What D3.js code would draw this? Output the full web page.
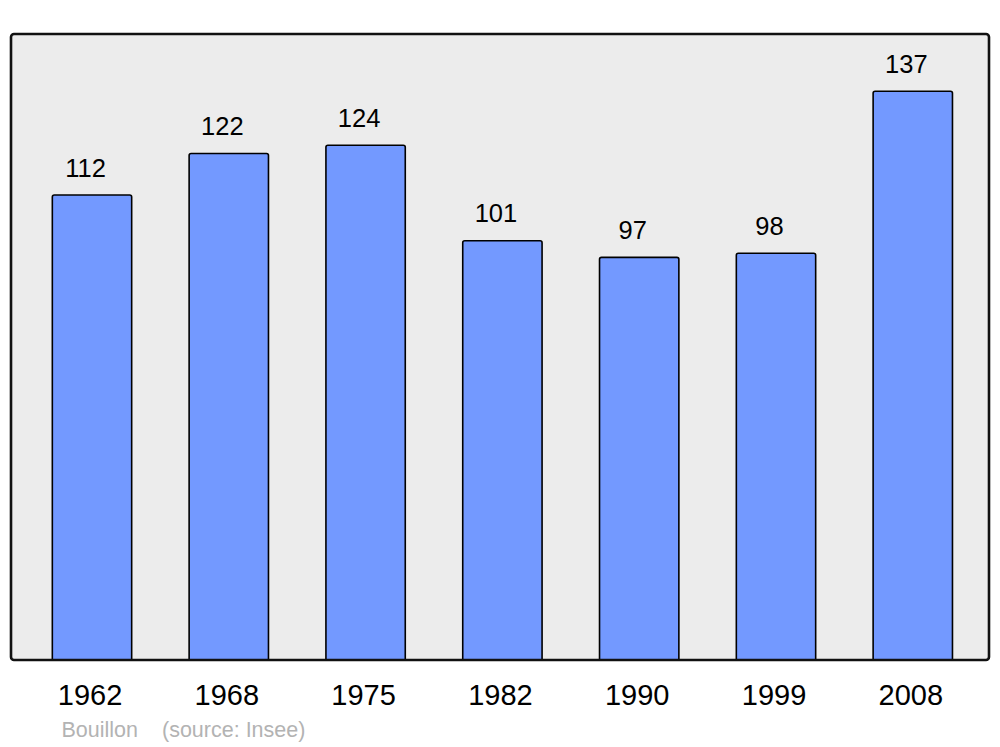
<!DOCTYPE html>
<html>
<head>
<meta charset="utf-8">
<script src="https://cdn.jsdelivr.net/npm/d3@7"></script>
<style>
  html, body { margin: 0; padding: 0; background: #fff; }
  svg { display: block; font-family: "Liberation Sans", Arial, sans-serif; }
</style>
</head>
<body>
<svg id="chart" width="1000" height="747"></svg>
<script>
const years = ["1962", "1968", "1975", "1982", "1990", "1999", "2008"];
const population = [112, 122, 124, 101, 97, 98, 137];
const place = "Bouillon";
const source = "(source: Insee)";

const svg = d3.select("#chart");
const panel = { x0: 11, x1: 989, y0: 34, y1: 660 };

svg.append("rect")
  .attr("x", panel.x0).attr("y", panel.y0)
  .attr("width", panel.x1 - panel.x0).attr("height", panel.y1 - panel.y0)
  .attr("rx", 3).attr("ry", 3)
  .attr("fill", "#ececec").attr("stroke", "none");

const x = d3.scaleBand()
  .domain(years)
  .range([23.6, 981.2])
  .paddingInner(0.42)
  .paddingOuter(0.21);

const y = d3.scaleLinear()
  .domain([0, 150.8])
  .range([panel.y1, panel.y0]);

const data = years.map((yr, i) => ({ year: yr, value: population[i] }));

svg.append("g").selectAll("path")
  .data(data)
  .join("path")
  .attr("d", d => {
    const x0 = x(d.year), x1 = x0 + x.bandwidth();
    const t = y(d.value), b = y(0), r = 2;
    return `M${x0},${b} L${x0},${t + r} Q${x0},${t} ${x0 + r},${t} L${x1 - r},${t} Q${x1},${t} ${x1},${t + r} L${x1},${b}`;
  })
  .attr("fill", "#7399ff")
  .attr("stroke", "#000")
  .attr("stroke-width", 1.6);

svg.append("g").selectAll("text")
  .data(data)
  .join("text")
  .attr("x", d => x(d.year) + x.bandwidth() / 2 - 6.5)
  .attr("y", d => y(d.value) - 18.5)
  .attr("text-anchor", "middle")
  .attr("font-size", 25.5)
  .attr("fill", "#000")
  .text(d => d.value);

// panel border on top
svg.append("rect")
  .attr("x", panel.x0).attr("y", panel.y0)
  .attr("width", panel.x1 - panel.x0).attr("height", panel.y1 - panel.y0)
  .attr("rx", 3).attr("ry", 3)
  .attr("fill", "none").attr("stroke", "#111").attr("stroke-width", 2.6);

const xAxis = d3.axisBottom(x).tickSize(0).tickPadding(0);
const gx = svg.append("g")
  .attr("transform", `translate(-2, ${panel.y1})`)
  .call(xAxis);
gx.select(".domain").remove();
gx.selectAll("text")
  .attr("dy", null)
  .attr("y", 45)
  .attr("font-size", 29)
  .attr("font-family", "Liberation Sans, Arial, sans-serif")
  .attr("fill", "#000");

svg.append("text")
  .attr("x", 61.5).attr("y", 737)
  .attr("font-size", 21.5)
  .attr("fill", "#b3b3b3")
  .text(place);
svg.append("text")
  .attr("x", 162).attr("y", 737)
  .attr("font-size", 21.5)
  .attr("fill", "#b3b3b3")
  .text(source);
</script>
</body>
</html>
